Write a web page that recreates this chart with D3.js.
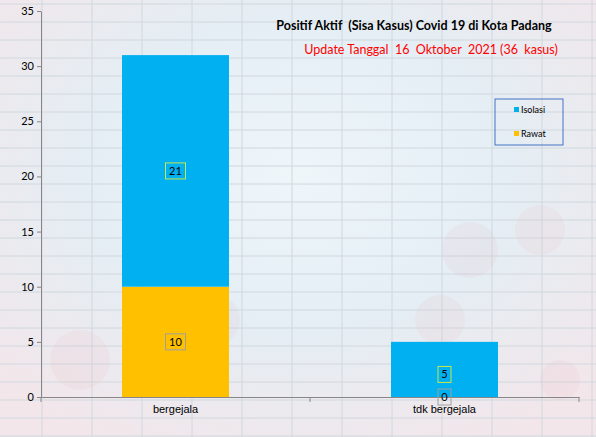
<!DOCTYPE html><html><head><meta charset="utf-8"><script src="https://cdn.jsdelivr.net/npm/d3@7"></script>
<style>body{margin:0}svg{font-family:Lato,"Open Sans",sans-serif}text{white-space:pre}</style></head><body><svg width="596" height="437"></svg><script>
const categories=["bergejala","tdk bergejala"];
const rawat=[10,0];
const isolasi=[21,5];
const yTicks=[0,5,10,15,20,25,30,35];
const colors={Isolasi:"#00b0f0",Rawat:"#ffc000"};
const svg=d3.select("svg");
const defs=svg.append("defs");
const g1=defs.append("radialGradient").attr("id","bg").attr("cx","50%").attr("cy","40%").attr("r","70%");
g1.append("stop").attr("offset","0").attr("stop-color","#eef6fa");
g1.append("stop").attr("offset","0.5").attr("stop-color","#e4eef4");
g1.append("stop").attr("offset","1").attr("stop-color","#f3e6ea");
svg.append("rect").attr("width",596).attr("height",437).attr("fill","url(#bg)");
const gridX=d3.range(-8,596,50),gridY=d3.range(4,437,18);
svg.selectAll(".gx").data(gridX).join("line").attr("x1",d=>d).attr("x2",d=>d).attr("y1",0).attr("y2",437).attr("stroke","#d0d8de").attr("stroke-width",1);
svg.selectAll(".gy").data(gridY).join("line").attr("y1",d=>d).attr("y2",d=>d).attr("x1",0).attr("x2",596).attr("stroke","#d0d8de").attr("stroke-width",1);
[[80,360,30],[215,320,25],[180,170,22],[470,250,28],[540,230,25],[440,320,25],[560,380,20]].forEach(([x,y,r])=>svg.append("circle").attr("cx",x).attr("cy",y).attr("r",r).attr("fill","#e8a5ad").attr("opacity",0.1));
const x=d3.scaleBand().domain(categories).range([41,579]).paddingInner(0).paddingOuter(0);
const y=d3.scaleLinear().domain([0,35]).range([397,11]);
const bw=107;
const ax=svg.append("g").attr("transform","translate(41,0)").call(d3.axisLeft(y).tickValues(yTicks).tickSize(4).tickSizeOuter(0));
ax.select(".domain").attr("stroke","#868686");ax.selectAll("line").attr("stroke","#868686");
ax.selectAll("text").attr("font-size",11).attr("fill","#000").attr("font-family","Lato,sans-serif");
const bx=svg.append("g").attr("transform","translate(0,397)").call(d3.axisBottom(x).tickSize(0).tickSizeOuter(0));
bx.select(".domain").attr("stroke","#868686");
bx.selectAll("text").attr("font-size",11).attr("fill","#000").attr("dy","1.2em");
[41,310,579].forEach(v=>svg.append("line").attr("x1",v).attr("x2",v).attr("y1",397).attr("y2",402).attr("stroke","#868686"));
const cx=d=>x(d)+x.bandwidth()/2;
svg.selectAll(".r").data(categories).join("rect").attr("x",d=>cx(d)-bw/2).attr("width",bw).attr("y",(d,i)=>y(rawat[i])).attr("height",(d,i)=>y(0)-y(rawat[i])).attr("fill",colors.Rawat);
svg.selectAll(".i").data(categories).join("rect").attr("x",d=>cx(d)-bw/2).attr("width",bw).attr("y",(d,i)=>y(rawat[i]+isolasi[i])).attr("height",(d,i)=>y(rawat[i])-y(rawat[i]+isolasi[i])).attr("fill",colors.Isolasi);
function lab(xp,yp,t,stroke){const gg=svg.append("g");const w=t.length*7+6;
gg.append("rect").attr("x",xp-w/2).attr("y",yp-8).attr("width",w).attr("height",16).attr("fill","none").attr("stroke",stroke).attr("stroke-width",1);
gg.append("text").attr("x",xp).attr("y",yp+4).attr("text-anchor","middle").attr("font-size",11).text(t);}
categories.forEach((c,i)=>{
 lab(cx(c),(y(rawat[i]+isolasi[i])+y(rawat[i]))/2+(i==1?5:0),String(isolasi[i]),"#c6e84a");
 lab(cx(c),i==1?y(0):(y(rawat[i])+y(0))/2,String(rawat[i]),"#a0a0a0");
});
svg.append("text").attr("x",414).attr("y",30).attr("text-anchor","middle").attr("font-size",12.5).attr("font-weight","bold").attr("fill","#000").text("Positif Aktif  (Sisa Kasus) Covid 19 di Kota Padang");
svg.append("text").attr("x",431).attr("y",54).attr("text-anchor","middle").attr("font-size",12.5).attr("fill","#ff0000").text("Update Tanggal  16  Oktober  2021 (36  kasus)");
svg.append("rect").attr("x",495).attr("y",99).attr("width",68).attr("height",46).attr("fill","none").attr("stroke","#4472c4");
[["Isolasi",110],["Rawat",134]].forEach(([n,yy])=>{svg.append("rect").attr("x",514).attr("y",yy-3).attr("width",5).attr("height",5).attr("fill",colors[n]);
svg.append("text").attr("x",521).attr("y",yy+3).attr("font-size",9).text(n);});
</script></body></html>
